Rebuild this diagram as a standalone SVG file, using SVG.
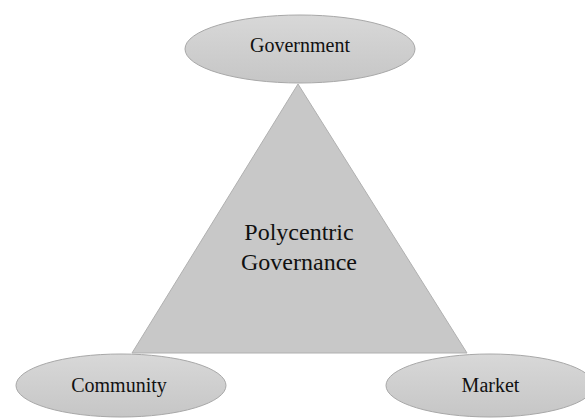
<svg xmlns="http://www.w3.org/2000/svg" width="585" height="419" viewBox="0 0 585 419">
<style>
.oval{fill:url(#g);stroke:#a8a8a8;stroke-width:1}
.tri{fill:#c8c8c8;stroke:#b0b0b0;stroke-width:1}
text{font-family:'Liberation Serif', 'Times New Roman', Times, serif;fill:#111;text-anchor:middle}
.s{font-size:20px}
.b{font-size:24px}
</style>
<defs>
<linearGradient id="g" x1="0" y1="0" x2="0" y2="1">
<stop offset="0" stop-color="#d8d8d8"/>
<stop offset="1" stop-color="#c6c6c6"/>
</linearGradient>
</defs>
<rect width="585" height="419" fill="#fff"/>
<g id="polycentric-governance">
<polygon class="tri" points="298,84 467,353 132,353"/>
<text class="b" x="299" y="240" font-family="Liberation Serif, serif">Polycentric</text>
<text class="b" x="299" y="270" font-family="Liberation Serif, serif">Governance</text>
</g>
<g id="connectors"></g>
<g id="government">
<ellipse class="oval" cx="300" cy="49" rx="115" ry="34"/>
<text class="s" x="300" y="52" font-family="Liberation Serif, serif">Government</text>
</g>
<g id="community">
<ellipse class="oval" cx="121" cy="385.5" rx="105" ry="31.5"/>
<text class="s" x="119" y="392" font-family="Liberation Serif, serif">Community</text>
</g>
<g id="market">
<ellipse class="oval" cx="490" cy="385.5" rx="104" ry="31.5"/>
<text class="s" x="490.5" y="392" font-family="Liberation Serif, serif">Market</text>
</g>
</svg>
